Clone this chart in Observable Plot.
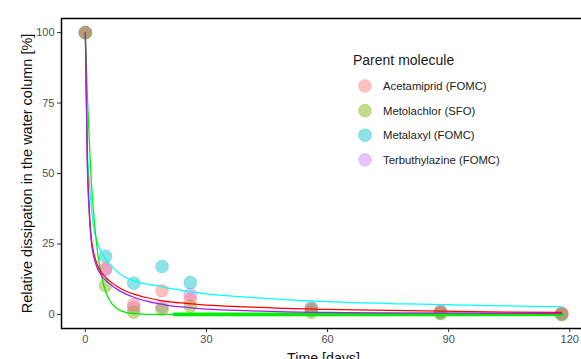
<!DOCTYPE html>
<html>
<head>
<meta charset="utf-8">
<script src="https://cdn.jsdelivr.net/npm/d3@7"></script>
<script src="https://cdn.jsdelivr.net/npm/@observablehq/plot@0.6"></script>
<style>
  html, body { margin: 0; padding: 0; background: #fff; }
  #wrap { position: relative; width: 581px; height: 359px; overflow: hidden; font-family: "Liberation Sans", Arial, sans-serif; }
  #wrap svg.legend { position: absolute; left: 0; top: 0; }
</style>
</head>
<body>
<div id="wrap"></div>
<script>
// ---- categories & colours ----
const molecules = ["Acetamiprid (FOMC)", "Metolachlor (SFO)", "Metalaxyl (FOMC)", "Terbuthylazine (FOMC)"];
const pointColors = ["#F8766D", "#7CAE00", "#00BFC4", "#C77CFF"];
const lineColors = ["#FF0000", "#00EE00", "#00FFFF", "#A020F0"];

// ---- observed values (% remaining) ----
const sampleDays = [0, 5, 12, 19, 26, 56, 88, 118];
const acetamipridObs   = [100, 16.3, 3.5, 8.4, 5.3, 2.0, 1.2, 0.5];
const metolachlorObs   = [100, 10.2, 0.8, 1.8, 2.9, 0.8, 0.3, 0.0];
const metalaxylObs     = [100, 20.6, 11.1, 17.0, 11.3, 2.4, 0.6, 0.0];
const terbuthylazineObs = [100, 15.8, 2.4, 2.8, 7.1, 1.5, 1.0, 0.3];

// ---- fitted curves ----
const curveDays = [0, 0.5, 1, 1.5, 2, 3, 4, 5, 6, 8, 10, 12, 15, 18.4, 20, 25, 30, 40, 50, 60, 80, 100, 118];
const acetamipridFit    = [100, 55, 37, 27, 22.5, 17.5, 14.8, 13.2, 11.9, 9.8, 8.3, 7.2, 6.0, 5.0, 4.6, 3.9, 3.3, 2.7, 2.1, 1.8, 1.3, 0.9, 0.7];
const metolachlorFit    = [100, 78, 61, 47, 37, 22.5, 13.7, 8.3, 5.0, 1.9, 0.7, 0.25, 0.05, 0, 0, 0, 0, 0, 0, 0, 0, 0, 0];
const metalaxylFit      = [100, 60, 47, 38, 31.5, 25.5, 22.0, 19.8, 17.9, 15.0, 13.0, 11.9, 10.8, 10.0, 9.5, 8.3, 7.3, 6.1, 5.2, 4.5, 3.7, 3.1, 2.7];
const terbuthylazineFit = [100, 53, 35, 25.5, 21, 16.3, 13.8, 12.2, 10.9, 8.8, 7.3, 6.1, 4.8, 3.7, 3.3, 2.5, 1.9, 1.3, 0.9, 0.7, 0.5, 0.4, 0.3];
// thick flat residue band of the SFO fit
const metolachlorBandDays = [22, 40, 60, 80, 100, 118];
const metolachlorBandFit  = [0, 0, 0, 0, 0, 0];

// ---- axes ----
const xTicks = [0, 30, 60, 90, 120];
const yTicks = [0, 25, 50, 75, 100];
const xTitle = "Time [days]";
const yTitle = "Relative dissipation in the water column [%]";
const legendTitle = "Parent molecule";

const obs = [acetamipridObs, metolachlorObs, metalaxylObs, terbuthylazineObs];
const fits = [acetamipridFit, metolachlorFit, metalaxylFit, terbuthylazineFit];

const pointsOf = i => sampleDays.map((t, j) => ({t, v: obs[i][j], m: molecules[i]}));
const curveOf = i => curveDays.map((t, j) => ({t, v: fits[i][j], m: molecules[i]}));
const band = metolachlorBandDays.map((t, j) => ({t, v: metolachlorBandFit[j]}));

const dotOrder = [3, 2, 1, 0];
const lineOrder = [2, 1, 0, 3];

const marks = [];
for (const i of dotOrder) {
  marks.push(Plot.dot(pointsOf(i), {x: "t", y: "v", r: 6.5, fill: pointColors[i], fillOpacity: 0.45,
    stroke: pointColors[i], strokeOpacity: 0.3, strokeWidth: 0.8}));
}
for (const i of lineOrder) {
  marks.push(Plot.line(curveOf(i), {x: "t", y: "v", stroke: lineColors[i], strokeWidth: 1.25, curve: "monotone-x"}));
  if (i === 1) marks.push(Plot.line(band, {x: "t", y: "v", stroke: lineColors[1], strokeWidth: 3.6}));
}

const chart = Plot.plot({
  width: 581,
  height: 359,
  marginLeft: 61,
  marginTop: 18,
  marginBottom: 31,
  marginRight: -4,
  style: {fontFamily: "Liberation Sans, Arial, sans-serif", fontSize: "11px", background: "white", overflow: "hidden"},
  x: {domain: [-5.9, 123.9]},
  y: {domain: [-5, 105]},
  marks: [
    Plot.axisX({ticks: xTicks, tickSize: 4, tickPadding: 3, label: null, stroke: "#333", fill: "#4d4d4d", fontSize: 11}),
    Plot.axisY({ticks: yTicks, tickSize: 4, tickPadding: 3, label: null, stroke: "#333", fill: "#4d4d4d", fontSize: 11}),
    ...marks,
    Plot.frame({stroke: "black", strokeWidth: 1.5}),
    Plot.text([xTitle], {frameAnchor: "bottom", lineAnchor: "middle", dy: 29.5, fontSize: 14.2, fill: "#111"}),
    Plot.text([yTitle], {frameAnchor: "left", textAnchor: "middle", lineAnchor: "middle", dx: -34, rotate: -90, fontSize: 14.5, fill: "#111"})
  ]
});

const wrap = document.getElementById("wrap");
wrap.appendChild(chart);

// ---- legend (inside the panel, top right) ----
const lg = d3.select(wrap).append("svg").attr("class", "legend")
  .attr("width", 581).attr("height", 359)
  .style("font-family", "Liberation Sans, Arial, sans-serif");
const lx = 353, ly = 65, step = 24.6;
lg.append("text").attr("x", lx).attr("y", ly).attr("font-size", 14).attr("fill", "#1a1a1a").text(legendTitle);
molecules.forEach((m, i) => {
  const cy = 86 + i * step;
  lg.append("circle").attr("cx", lx + 12).attr("cy", cy).attr("r", 6.5)
    .attr("fill", pointColors[i]).attr("fill-opacity", 0.45)
    .attr("stroke", pointColors[i]).attr("stroke-opacity", 0.3).attr("stroke-width", 0.8);
  lg.append("text").attr("x", lx + 30).attr("y", cy).attr("dy", "0.36em")
    .attr("font-size", 11.3).attr("fill", "#222").text(m);
});
</script>
</body>
</html>
